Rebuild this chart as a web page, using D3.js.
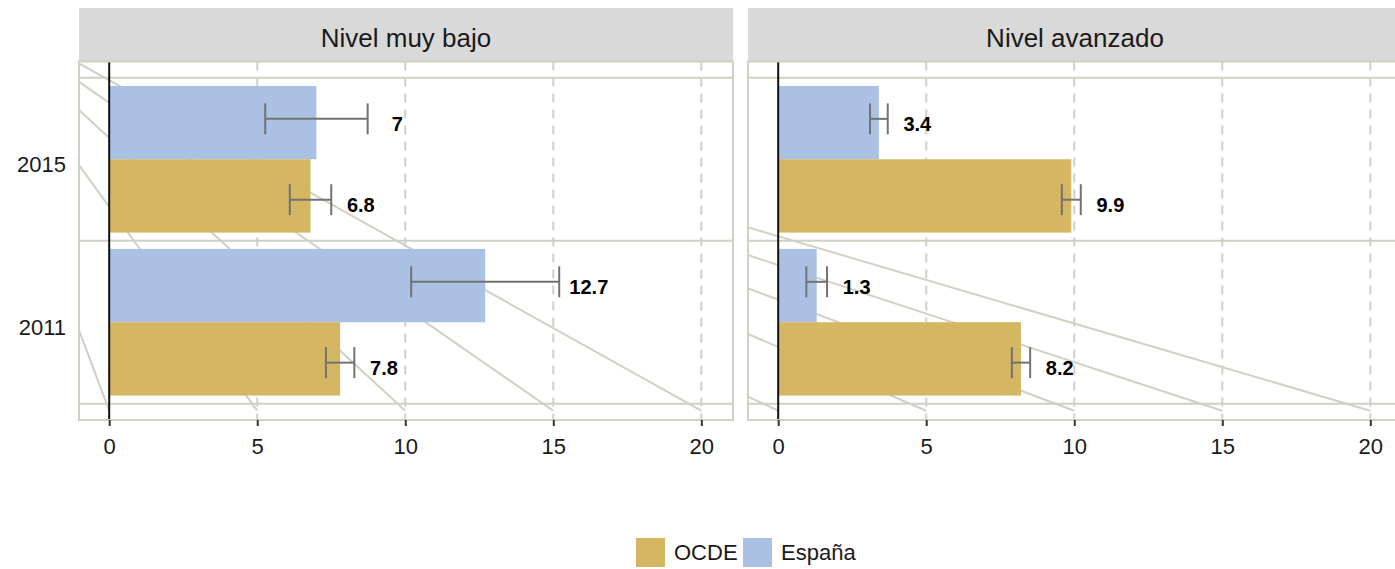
<!DOCTYPE html>
<html>
<head>
<meta charset="utf-8">
<script src="https://cdn.jsdelivr.net/npm/d3@7"></script>
<style>
  body { margin: 0; background: #fff; }
  svg text { font-family: "Liberation Sans", Arial, sans-serif; }
</style>
</head>
<body>
<svg id="chart" width="1395" height="569"></svg>
<script>
// DATA //
const panels = ["Nivel muy bajo", "Nivel avanzado"]
const years = ["2015", "2011"]
const series = ["España", "OCDE"]
const legendOrder = ["OCDE", "España"]

// values per panel, in the order of years
const espana = [[7, 12.7], [3.4, 1.3]]
const ocde = [[6.8, 7.8], [9.9, 8.2]]
// half width of the error bars
const espanaErr = [[1.73, 2.5], [0.3, 0.35]]
const ocdeErr = [[0.7, 0.48], [0.32, 0.31]]

const xTicks = [0, 5, 10, 15, 20]
// guide lines: left end height on the y scale, bottom end at each x tick
const guideLeft = [[2.588, 2.475, 2.302, 1.964, 0.952], [1.582, 1.412, 1.208, 0.928, 0.543]]
const guideEnd = [20, 15, 10, 5, 0]

const colors = { "OCDE": "#d4b663", "España": "#abc1e3" }
const lineCol = "#d0d0c4"

// LAYOUT //
const svg = d3.select('#chart')
const panelW = 654, panelTop = 61.5, panelBottom = 420
const panelX = [79, 748]

const x = d3.scaleLinear().domain([-1.02, 21.07]).range([0, panelW])
// continuous y: 2011 at 1, 2015 at 2
const y = d3.scaleLinear().domain([0.4, 2.6]).range([panelBottom, panelTop])
const yearPos = { "2015": 2, "2011": 1 }
const half = 0.225      // bar half height (dodge)
const errOff = 0.248    // error bar / label dodge offset

// DRAW PANELS //
panels.forEach((title, p) => {
    const g = svg.append('g').attr('transform', `translate(${panelX[p]},0)`)

    // strip
    g.append('rect').attr('x', 0).attr('y', 8).attr('width', panelW).attr('height', panelTop - 8)
        .attr('fill', '#d9d9d9')
    g.append('text').attr('x', panelW / 2).attr('y', 47).attr('text-anchor', 'middle')
        .attr('font-size', 26).attr('fill', '#1a1a1a').text(title)

    // vertical dashed grid
    g.selectAll('.vgrid').data(xTicks.filter(d => d > 0)).enter().append('line')
        .attr('x1', d => x(d)).attr('x2', d => x(d))
        .attr('y1', panelTop).attr('y2', panelBottom)
        .attr('stroke', lineCol).attr('stroke-width', 2).attr('stroke-dasharray', '9,7')

    // horizontal band lines
    g.selectAll('.hgrid').data([0.5, 1.5, 2.5]).enter().append('line')
        .attr('x1', 0).attr('x2', panelW)
        .attr('y1', d => y(d)).attr('y2', d => y(d))
        .attr('stroke', lineCol).attr('stroke-width', 2)

    // guide diagonals
    g.selectAll('.diag').data(guideEnd).enter().append('line')
        .attr('x1', x(-1.02)).attr('y1', (d, i) => y(guideLeft[p][i]))
        .attr('x2', d => x(d)).attr('y2', y(0.457))
        .attr('stroke', lineCol).attr('stroke-width', 2)

    // bars
    const rows = []
    years.forEach((yr, i) => {
        rows.push({ s: "España", v: espana[p][i], e: espanaErr[p][i], c: yearPos[yr] + half, ec: yearPos[yr] + errOff })
        rows.push({ s: "OCDE", v: ocde[p][i], e: ocdeErr[p][i], c: yearPos[yr] - half, ec: yearPos[yr] - errOff })
    })

    g.selectAll('.bar').data(rows).enter().append('rect')
        .attr('x', x(0))
        .attr('y', d => y(d.c + half))
        .attr('width', d => x(d.v) - x(0))
        .attr('height', d => y(d.c - half) - y(d.c + half))
        .attr('fill', d => colors[d.s])

    // error bars
    const eb = g.selectAll('.err').data(rows).enter().append('g')
        .attr('stroke', '#727272').attr('stroke-width', 2)
    eb.append('line')
        .attr('x1', d => x(d.v - d.e)).attr('x2', d => x(d.v + d.e))
        .attr('y1', d => y(d.ec)).attr('y2', d => y(d.ec))
    eb.append('line')
        .attr('x1', d => x(d.v - d.e)).attr('x2', d => x(d.v - d.e))
        .attr('y1', d => y(d.ec + 0.095)).attr('y2', d => y(d.ec - 0.095))
    eb.append('line')
        .attr('x1', d => x(d.v + d.e)).attr('x2', d => x(d.v + d.e))
        .attr('y1', d => y(d.ec + 0.095)).attr('y2', d => y(d.ec - 0.095))

    // zero line
    g.append('line').attr('x1', x(0)).attr('x2', x(0))
        .attr('y1', panelTop).attr('y2', panelBottom)
        .attr('stroke', '#111').attr('stroke-width', 2)

    // value labels
    g.selectAll('.lab').data(rows).enter().append('text')
        .attr('x', d => x(d.v + d.e + 1))
        .attr('y', d => y(d.ec))
        .attr('dy', '0.63em')
        .attr('text-anchor', 'middle')
        .attr('font-size', 20).attr('font-weight', 'bold').attr('fill', '#000')
        .text(d => d.v)

    // panel border
    g.append('rect').attr('x', 0).attr('y', panelTop).attr('width', panelW).attr('height', panelBottom - panelTop)
        .attr('fill', 'none').attr('stroke', lineCol).attr('stroke-width', 2)

    // x axis
    const ax = g.append('g').attr('transform', `translate(0,${panelBottom})`)
        .call(d3.axisBottom(x).tickValues(xTicks).tickSize(6).tickPadding(12).tickFormat(d3.format('d')))
    ax.select('.domain').remove()
    ax.selectAll('line').attr('stroke', '#333').attr('stroke-width', 2)
    ax.selectAll('text').attr('font-size', 22).attr('fill', '#1a1a1a')
        .attr('font-family', '"Liberation Sans", Arial, sans-serif')
})

// y labels
svg.selectAll('.ylab').data(years).enter().append('text')
    .attr('x', 66).attr('y', d => y(yearPos[d])).attr('dy', '0.6em')
    .attr('text-anchor', 'end').attr('font-size', 22).attr('fill', '#1a1a1a')
    .text(d => d)

// LEGEND //
const legX = [636, 743]
const lg = svg.selectAll('.leg').data(legendOrder).enter().append('g')
    .attr('transform', (d, i) => `translate(${legX[i]},538)`)
lg.append('rect').attr('width', 29).attr('height', 29).attr('fill', d => colors[d])
lg.append('text').attr('x', 38).attr('y', 22).attr('font-size', 22).attr('fill', '#1a1a1a')
    .text(d => d)
</script>
</body>
</html>
